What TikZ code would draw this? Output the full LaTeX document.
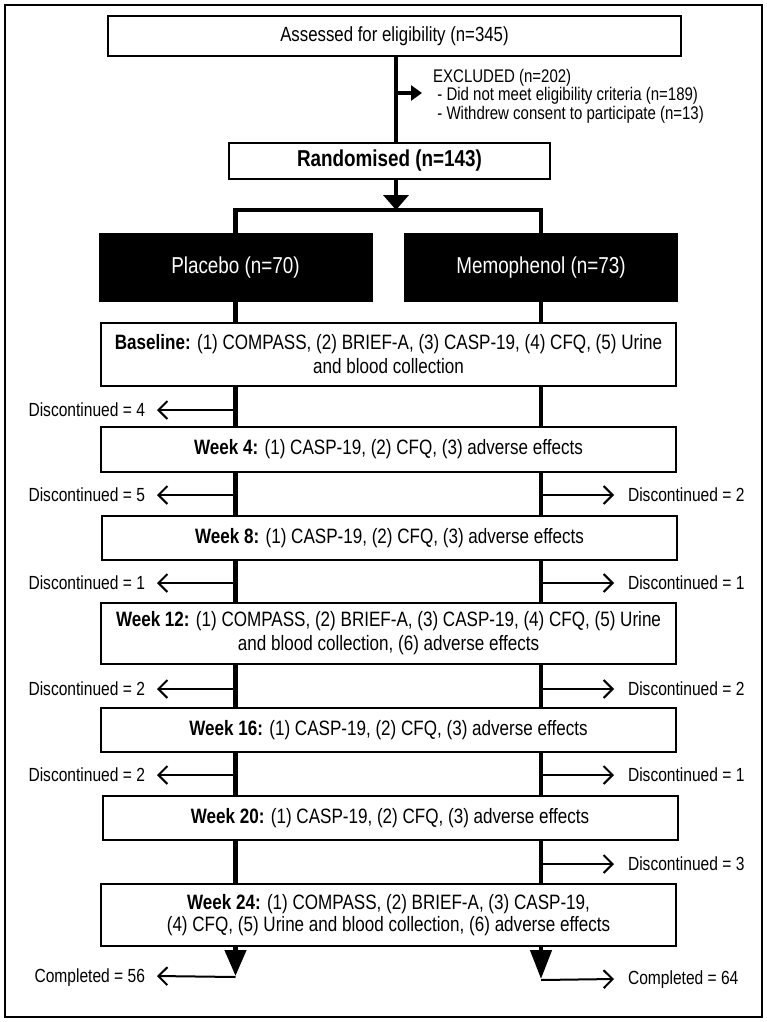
\documentclass[tikz,border=0pt]{standalone}
\usepackage{fontspec}
\setmainfont[FakeStretch=0.82]{Liberation Sans}
\usetikzlibrary{arrows.meta}
\begin{document}
\begin{tikzpicture}[x=1pt,y=-1pt,
  box/.style={draw, line width=2pt, minimum width=575pt, inner sep=0pt, align=center, font=\fontsize{20.8}{24}\selectfont},
  blackbox/.style={draw, fill=black, text=white, line width=2pt, minimum width=272pt, minimum height=67pt, inner sep=0pt, font=\fontsize{23}{26}\selectfont},
  thickline/.style={line width=4.5pt},
  thickarr/.style={line width=4.5pt, -{Triangle[width=25pt,length=15pt]}},
  thinarr/.style={line width=2pt, -{Straight Barb[length=9pt,width=18pt,line width=2pt]}},
  discL/.style={anchor=east, inner sep=0pt, outer xsep=12pt, font=\fontsize{19}{21}\selectfont},
  discR/.style={anchor=west, inner sep=0pt, outer xsep=14pt, font=\fontsize{19}{21}\selectfont},
]
\useasboundingbox (0,0) rectangle (767,1022);
\draw[line width=2.5pt] (5,5) rectangle (762,1017);

\node[box, minimum width=573pt, minimum height=40pt, font=\fontsize{20.5}{24}\selectfont] (assess) at (394.5,36) {Assessed for eligibility (n=345)};
\node[box, minimum width=321pt, minimum height=36pt, font=\fontsize{23}{26}\selectfont\bfseries] (rand) at (389.5,161) {Randomised (n=143)};
\node[blackbox] (plac) at (235.5,267.5) {Placebo (n=70)};
\node[blackbox] (memo) at (541,267.5) {Memophenol (n=73)};

\node[box, minimum height=63pt] (base) at (388.5,354.5) {\textbf{Baseline:} (1) COMPASS, (2) BRIEF-A, (3) CASP-19, (4) CFQ, (5) Urine\\and blood collection};
\node[box, minimum height=45pt] (w4) at (388.5,449.5) {\textbf{Week 4:} (1) CASP-19, (2) CFQ, (3) adverse effects};
\node[box, minimum height=44pt] (w8) at (389.5,538) {\textbf{Week 8:} (1) CASP-19, (2) CFQ, (3) adverse effects};
\node[box, minimum height=61pt] (w12) at (388.5,633.5) {\textbf{Week 12:} (1) COMPASS, (2) BRIEF-A, (3) CASP-19, (4) CFQ, (5) Urine\\and blood collection, (6) adverse effects};
\node[box, minimum height=44pt] (w16) at (388.5,730) {\textbf{Week 16:} (1) CASP-19, (2) CFQ, (3) adverse effects};
\node[box, minimum height=44pt] (w20) at (390,818) {\textbf{Week 20:} (1) CASP-19, (2) CFQ, (3) adverse effects};
\node[box, minimum height=62pt, font=\fontsize{20.8}{22}\selectfont] (w24) at (388.5,915) {\textbf{Week 24:} (1) COMPASS, (2) BRIEF-A, (3) CASP-19,\\(4) CFQ, (5) Urine and blood collection, (6) adverse effects};

% excluded
\node[anchor=north west, inner sep=0pt, align=left, font=\fontsize{18.3}{18.5}\selectfont] (excl) at (433,69) {EXCLUDED (n=202)\\\ - Did not meet eligibility criteria (n=189)\\\ - Withdrew consent to participate (n=13)};

\coordinate (mx) at (396,0);
\coordinate (ex) at (396,93);
\coordinate (ext) at (422,93);
\draw[thickline] (assess.south -| mx) -- (rand.north -| mx);
\draw[line width=4.5pt, -{Triangle[width=15pt,length=11pt]}] (ex) -- (ext);

% randomisation split
\coordinate (split) at (396,210);
\draw[thickarr] (rand.south -| mx) -- (split);
\draw[thickline, line join=miter] (plac.north) -- ++(0,-23) -| (memo.north);

% vertical connectors
\foreach \a/\b in {plac/base, base/w4, w4/w8, w8/w12, w12/w16, w16/w20, w20/w24} {
  \draw[thickline] (\a.south -| plac) -- (\b.north -| plac);
}
\foreach \a/\b in {memo/base, base/w4, w4/w8, w8/w12, w12/w16, w16/w20, w20/w24} {
  \draw[thickline] (\a.south -| memo) -- (\b.north -| memo);
}

% discontinued left
\foreach \y/\n/\name in {410/4/l1, 495/5/l2, 583/1/l3, 689/2/l4, 775/2/l5} {
  \coordinate (\name) at (235.5,\y);
  \node[discL] (\name t) at (157,\y) {Discontinued = \n};
  \draw[thinarr] (\name) -- (\name t.east);
}
% discontinued right
\foreach \y/\n/\name in {495/2/r1, 583/1/r2, 689/2/r3, 775/1/r4, 864/3/r5} {
  \coordinate (\name) at (541,\y);
  \node[discR] (\name t) at (614,\y) {Discontinued = \n};
  \draw[thinarr] (\name) -- (\name t.west);
}

% completed
\coordinate (cl) at (235.5,976);
\coordinate (cr) at (541,979);
\draw[line width=4.5pt, -{Triangle[width=21pt,length=26pt]}] (w24.south -| plac) -- (cl);
\draw[line width=4.5pt, -{Triangle[width=21pt,length=29pt]}] (w24.south -| memo) -- (cr);
\node[discL] (clt) at (157,978) {Completed = 56};
\node[discR] (crt) at (614,980) {Completed = 64};
\draw[thinarr] ([yshift=-1pt]cl) -- (clt.east |- cl);
\draw[thinarr] ([yshift=-1pt]cr) -- (crt.west |- cr);
\end{tikzpicture}
\end{document}
